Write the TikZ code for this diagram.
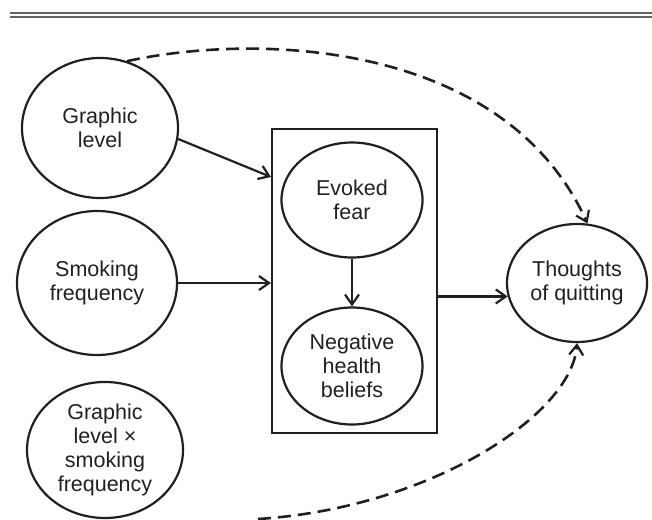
\documentclass[tikz,border=0pt]{standalone}
\usepackage{fontspec}
\setmainfont{Liberation Sans}
\usetikzlibrary{shapes.geometric,arrows.meta,calc}
\definecolor{ink}{HTML}{231F20}
\definecolor{rulegray}{HTML}{646464}
\begin{document}
\begin{tikzpicture}[x=1pt,y=-1pt,
  var/.style={ellipse,draw=ink,line width=2.2pt,inner sep=0pt,align=center,text=ink,
    font=\fontsize{21.5}{24}\selectfont},
  arr/.style={draw=ink,line width=2.2pt,-{Straight Barb[length=10pt,width=14pt,line width=2.2pt]}},
  darr/.style={arr,line width=2.6pt,dash pattern=on 13pt off 7pt}
]
\useasboundingbox (0,0) rectangle (652,519);
\draw[rulegray,line width=1.8pt] (10,12.8) -- (652,12.8);
\draw[rulegray,line width=1.8pt] (10,16.8) -- (652,16.8);

\node[var,minimum width=156pt,minimum height=140pt] (gl) at (100,128) {Graphic\\level};
\node[var,minimum width=160pt,minimum height=144pt] (sf) at (97,283) {Smoking\\frequency};
\node[var,minimum width=156pt,minimum height=136pt] (ix) at (105,450) {Graphic\\level ×\\smoking\\frequency};

\node[draw=ink,line width=2.2pt,minimum width=165pt,minimum height=304pt,inner sep=0pt] (box) at (354.5,281) {};
\node[var,minimum width=141pt,minimum height=115pt] (ef) at (352,200) {Evoked\\fear};
\node[var,minimum width=141pt,minimum height=117pt] (nh) at (352,366) {Negative\\health\\beliefs};
\node[var,minimum width=140pt,minimum height=118pt] (tq) at (577,283) {Thoughts\\of quitting};

\coordinate (b1) at (271,177);
\draw[arr] (gl.-8) -- (b1);
\draw[arr] (sf.east) -- (sf.east -| box.west);
\draw[arr] (ef.south) -- (nh.north);
\draw[arr] (box.east |- tq.191) -- (tq.191);

\draw[darr] (gl.68) .. controls (260,32) and (505,42) .. (tq.80);
\coordinate (bs) at (258,519);
\draw[darr] (bs) .. controls (430,508) and (572,415) .. (tq.south);
\end{tikzpicture}
\end{document}
